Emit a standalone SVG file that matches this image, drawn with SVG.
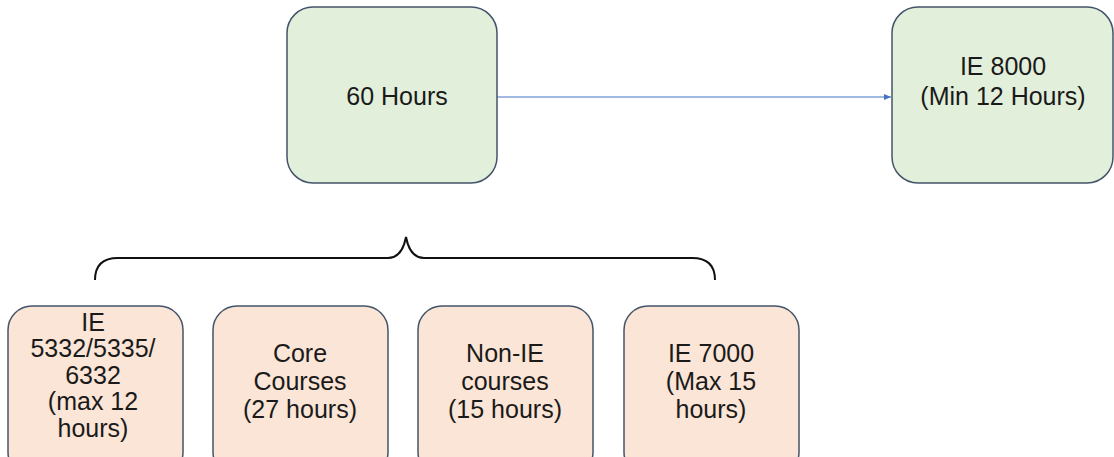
<svg xmlns="http://www.w3.org/2000/svg" width="1114" height="457" viewBox="0 0 1114 457">
<style>
.g{fill:#e2efda;stroke:#44546a;stroke-width:1.5}
.p{fill:#fbe5d6;stroke:#44546a;stroke-width:1.5}
text{font-family:"Liberation Sans",Arial,sans-serif;font-size:25px;fill:#1a1a1a;text-anchor:middle}
</style>
<defs>
<marker id="ah" markerWidth="8" markerHeight="8" refX="7" refY="4" orient="auto" markerUnits="userSpaceOnUse">
<path d="M0,1 L7,4 L0,7 Z" fill="#4472c4"/>
</marker>
</defs>
<g id="connectors">
<line x1="497" y1="97" x2="891" y2="97" stroke="#4472c4" stroke-width="1" marker-end="url(#ah)"/>
<path d="M95,280 Q95,258 118,258 L388,258 Q402,258 406,237 Q410,258 424,258 L692,258 Q715,258 715,280" fill="none" stroke="#111" stroke-width="2"/>
</g>
<g id="n60">
<rect class="g" x="287" y="7" width="210" height="176" rx="26"/>
<text x="397" y="105">60 Hours</text>
</g>
<g id="n8000">
<rect class="g" x="892" y="7" width="221" height="176" rx="26"/>
<text x="1003" y="75">IE 8000</text>
<text x="1003" y="105">(Min 12 Hours)</text>
</g>
<g id="nIE5332">
<rect class="p" x="8" y="306" width="175" height="170" rx="24"/>
<text x="93" y="331">IE</text>
<text x="93" y="357">5332/5335/</text>
<text x="93" y="384">6332</text>
<text x="93" y="410">(max 12</text>
<text x="93" y="437">hours)</text>
</g>
<g id="ncore">
<rect class="p" x="213" y="306" width="175" height="170" rx="24"/>
<text x="300" y="362">Core</text>
<text x="300" y="390">Courses</text>
<text x="300" y="418">(27 hours)</text>
</g>
<g id="nnonie">
<rect class="p" x="418" y="306" width="175" height="170" rx="24"/>
<text x="505" y="362">Non-IE</text>
<text x="505" y="390">courses</text>
<text x="505" y="418">(15 hours)</text>
</g>
<g id="nie7000">
<rect class="p" x="624" y="306" width="175" height="170" rx="24"/>
<text x="711" y="362">IE 7000</text>
<text x="711" y="390">(Max 15</text>
<text x="711" y="418">hours)</text>
</g>
</svg>
